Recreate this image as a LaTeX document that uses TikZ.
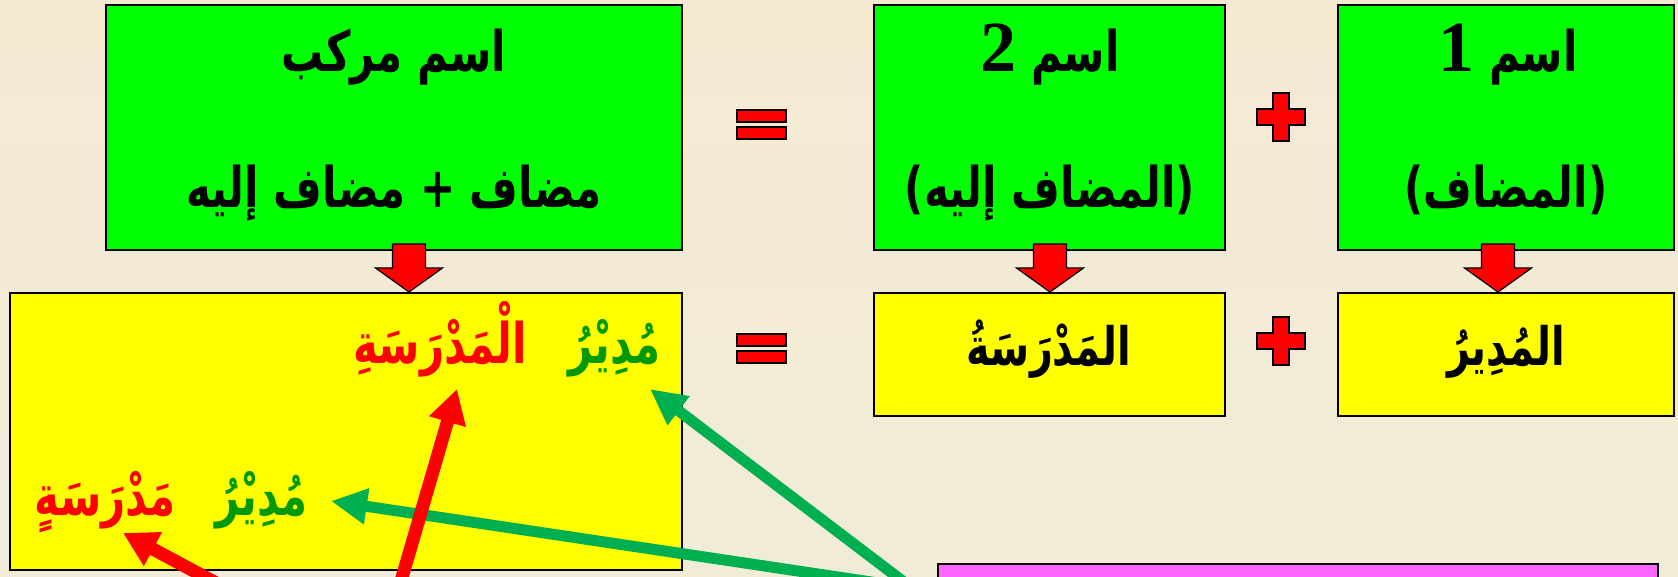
\documentclass[tikz,border=0pt]{standalone}
\usepackage{fontspec}
\usetikzlibrary{arrows.meta,calc}
\TeXXeTstate=1
\newfontfamily\arabicfont[Script=Arabic, FakeStretch=0.75]{DejaVu Sans}
\newfontfamily\numfont{Liberation Serif}
\definecolor{bgtop}{HTML}{F6E9D2}
\definecolor{bgbot}{HTML}{F0ECD8}
\definecolor{boxgreen}{HTML}{00FF00}
\definecolor{boxyellow}{HTML}{FFFF00}
\definecolor{signred}{HTML}{FF0000}
\definecolor{txtgreen}{HTML}{009900}
\definecolor{arrgreen}{HTML}{00B050}
\definecolor{boxpink}{HTML}{FF66FF}
\tikzset{
  box/.style={draw=black, line width=2.5pt, inner sep=0pt, outer sep=0pt},
  gbox/.style={box, fill=boxgreen},
  ybox/.style={box, fill=boxyellow},
  pbox/.style={box, fill=boxpink},
  toptxt/.style={font=\arabicfont\bfseries\fontsize{56}{64}\selectfont, inner sep=0pt, anchor=base},
  bigtxt/.style={font=\arabicfont\bfseries\fontsize{53}{60}\selectfont, inner sep=0pt, anchor=base},
  midtxt/.style={font=\arabicfont\bfseries\fontsize{56}{64}\selectfont, inner sep=0pt, anchor=base east},
  sign/.style={fill=signred, draw=black, line width=1.2pt},
  blockarrow/.style={fill=signred, draw=black, line width=1.2pt, line join=miter},
  grarrow/.style={draw=arrgreen, line width=11pt, -{Triangle[length=36pt, width=34pt]}},
  rdarrow/.style={draw=signred, line width=13pt, -{Triangle[length=34pt, width=36pt]}},
}
\begin{document}
\begin{tikzpicture}[x=1pt, y=-1pt]
\useasboundingbox (0,0) rectangle (1678,577);
\clip (0,0) rectangle (1678,577);
\shade[top color=bgtop, bottom color=bgbot] (0,0) rectangle (1678,577);

% top row boxes
\node[gbox, minimum width=576pt, minimum height=245pt] (A) at (394,127.5) {};
\node[gbox, minimum width=351pt, minimum height=245pt] (B) at (1049.5,127.5) {};
\node[gbox, minimum width=336pt, minimum height=245pt] (C) at (1506,127.5) {};
% bottom row boxes
\node[ybox, minimum width=672pt, minimum height=277pt] (Y) at (346,431.5) {};
\node[ybox, minimum width=351pt, minimum height=123pt] (B2) at (1049.5,354.5) {};
\node[ybox, minimum width=336pt, minimum height=123pt] (C2) at (1506,354.5) {};
\node[pbox, minimum width=720pt, minimum height=76pt] (P) at (1298,602) {};

% texts top row
\node[toptxt] (tA1) at (394,72) {\beginR اسم مركب\endR};
\node[toptxt] (tA2) at (394,208) {\beginR مضاف + مضاف إليه\endR};
\node[toptxt] (tB1) at (1050,72) {\beginR اسم {\numfont\fontsize{72}{80}\selectfont 2}\endR};
\node[toptxt] (tB2) at (1050,208) {\beginR(المضاف إليه)\endR};
\node[toptxt] (tC1) at (1508,72) {\beginR اسم {\numfont\fontsize{72}{80}\selectfont 1}\endR};
\node[toptxt] (tC2) at (1506,208) {\beginR(المضاف)\endR};

% texts bottom row
\node[bigtxt] (tB3) at (1049,365) {المَدْرَسَةُ};
\node[bigtxt] (tC3) at (1506,365) {المُدِيرُ};
\node[midtxt, text=txtgreen] (w1) at (661,363) {مُدِيْرُ};
\node[midtxt, text=signred] (w2) at (527,363) {الْمَدْرَسَةِ};
\node[midtxt, text=txtgreen] (w3) at (308,515) {مُدِيْرُ};
\node[midtxt, text=signred] (w4) at (176,515) {مَدْرَسَةٍ};

% equals and plus signs
\foreach \yy/\nm in {110/eqT,334/eqB}{
  \path[sign] (737,\yy) rectangle (786,\yy+12);
  \path[sign] (737,\yy+17) rectangle (786,\yy+29);
}
\foreach \cy in {117,341}{
  \path[sign] (1273,\cy-24) -- (1289,\cy-24) -- (1289,\cy-8) -- (1305,\cy-8) -- (1305,\cy+8)
    -- (1289,\cy+8) -- (1289,\cy+24) -- (1273,\cy+24) -- (1273,\cy+8) -- (1257,\cy+8)
    -- (1257,\cy-8) -- (1273,\cy-8) -- cycle;
}

% block arrows down
\foreach \bx/\nd in {409/A,1050/B,1498/C}{
  \path[blockarrow] (\bx-16.5,244) -- (\bx+16.5,244) -- (\bx+16.5,268) -- (\bx+33.5,268)
    -- (\bx,292) -- (\bx-33.5,268) -- (\bx-16.5,268) -- cycle;
}

% connectors
\coordinate (r1tail) at (394,605);
\coordinate (r1tip) at (457,389);
\coordinate (r2tail) at (246,599);
\coordinate (r2tip) at (123,533);
\coordinate (g1tip) at (650,389);
\coordinate (g2tip) at (331,501);
\draw[grarrow] ([yshift=-6pt]P.west) -- (g1tip);
\draw[grarrow] ([yshift=10pt]P.west) -- (g2tip);
\draw[rdarrow] (r1tail) -- (r1tip);
\draw[rdarrow] (r2tail) -- (r2tip);
\end{tikzpicture}
\end{document}
